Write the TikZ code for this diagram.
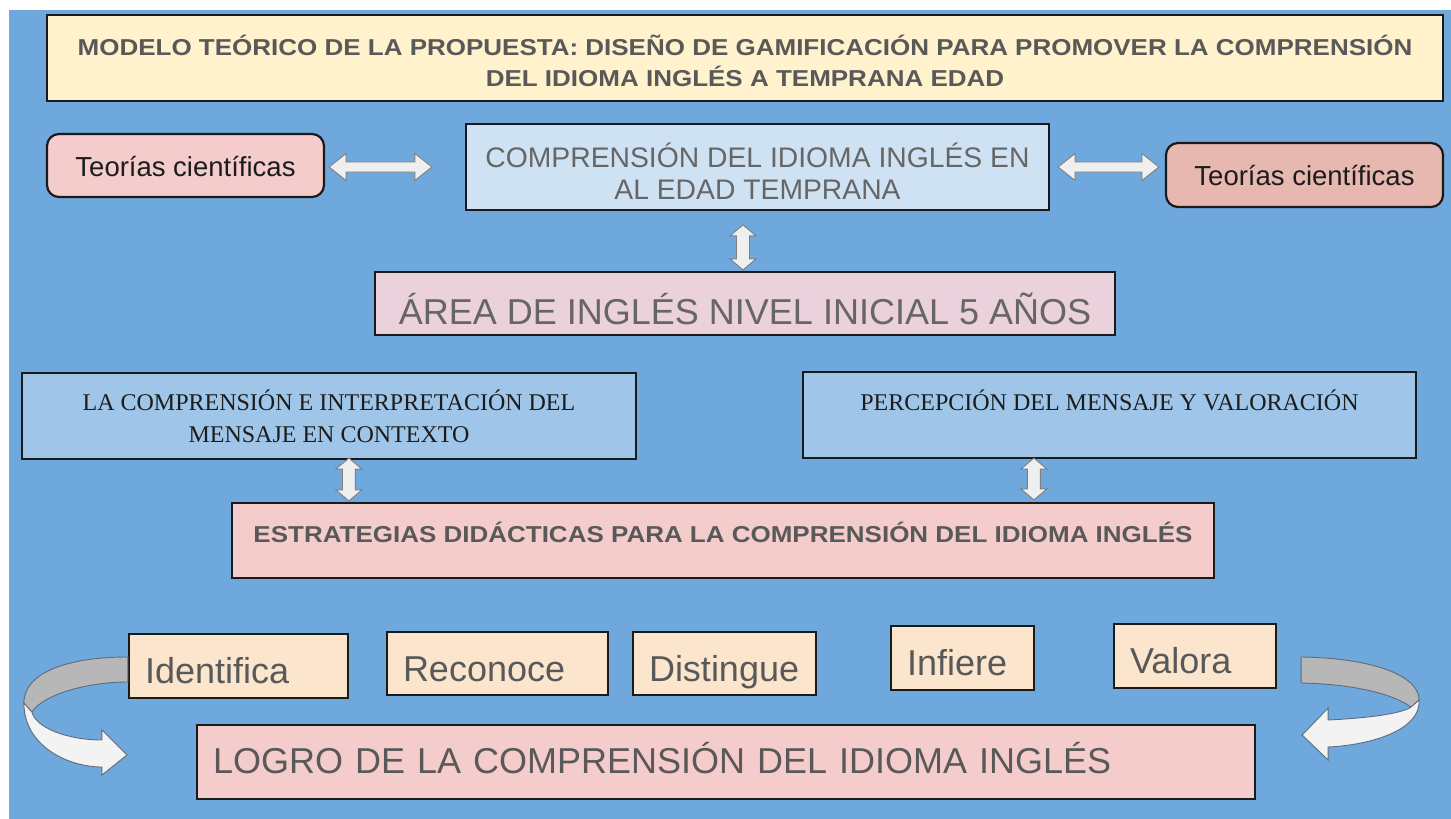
\documentclass[tikz,border=0pt]{standalone}
\usepackage{fontspec}
\setmainfont{Liberation Sans}
\newfontfamily\serifF{Liberation Serif}
\newfontfamily\wideF[FakeStretch=1.13]{Liberation Sans}
\usetikzlibrary{calc}
\definecolor{bgblue}{HTML}{6FA8DC}
\definecolor{titlefill}{HTML}{FFF2CC}
\definecolor{pinkfill}{HTML}{F4CCCC}
\definecolor{salmonfill}{HTML}{E6B8AF}
\definecolor{lightblue}{HTML}{CFE2F3}
\definecolor{midblue}{HTML}{9FC5E8}
\definecolor{lavfill}{HTML}{EAD1DC}
\definecolor{peach}{HTML}{FCE5CD}
\definecolor{edge}{HTML}{1A1A1A}
\definecolor{txtgray}{HTML}{595959}
\definecolor{txtlight}{HTML}{666666}
\definecolor{txtblack}{HTML}{1C1C1C}
\definecolor{arrfill}{HTML}{EFEFEF}
\definecolor{arrline}{HTML}{7F7F7F}
\definecolor{ribbongray}{HTML}{B7B7B7}
\definecolor{ribbonwhite}{HTML}{F3F3F3}
\definecolor{ribbonline}{HTML}{5F6B7A}
\newcommand\topstrut[1]{\rule{0pt}{#1pt}}
\newcommand\botstrut[1]{\rule[-#1pt]{0pt}{#1pt}}
\newcommand\harrow[2]{\draw[barrow] (#1) -- ([shift={(17,-13.5)}]#1) -- ([shift={(17,-5)}]#1) -- ([shift={(-17,-5)}]#2) -- ([shift={(-17,-13.5)}]#2) -- (#2) -- ([shift={(-17,13.5)}]#2) -- ([shift={(-17,5)}]#2) -- ([shift={(17,5)}]#1) -- ([shift={(17,13.5)}]#1) -- cycle;}
\newcommand\varrow[2]{\draw[barrow] (#1) -- ([shift={(13,11)}]#1) -- ([shift={(6.5,11)}]#1) -- ([shift={(6.5,-11)}]#2) -- ([shift={(13,-11)}]#2) -- (#2) -- ([shift={(-13,-11)}]#2) -- ([shift={(-6.5,-11)}]#2) -- ([shift={(-6.5,11)}]#1) -- ([shift={(-13,11)}]#1) -- cycle;}
\begin{document}
\begin{tikzpicture}[x=1pt,y=-1pt,
  box/.style={draw=edge, line width=2.2pt, inner sep=0pt},
  barrow/.style={fill=arrfill, draw=arrline, line width=0.9pt, line join=miter},
  rgray/.style={fill=ribbongray, draw=ribbonline, line width=0.9pt},
  rwhite/.style={fill=ribbonwhite, draw=ribbonline, line width=0.9pt, line join=miter},
  verb/.style={box, fill=peach, text=txtgray, align=left, inner xsep=16pt, font=\fontsize{36}{40}\selectfont}
]
\useasboundingbox (0,0) rectangle (1451,819);
\fill[white] (0,0) rectangle (1451,819);
\fill[bgblue] (9,10) rectangle (1451,819);

% title
\node[box, fill=titlefill, minimum width=1396pt, minimum height=86pt, align=center,
  font=\wideF\bfseries\fontsize{23}{31}\selectfont, text=txtgray] (title) at (745,58)
  {\topstrut{27.4}MODELO TEÓRICO DE LA PROPUESTA: DISEÑO DE GAMIFICACIÓN PARA PROMOVER LA COMPRENSIÓN\\DEL IDIOMA INGLÉS A TEMPRANA EDAD\botstrut{2}};

% second row
\node[box, rounded corners=12pt, fill=pinkfill, minimum width=277pt, minimum height=63pt,
  text height=24.4pt, text depth=2pt, font=\fontsize{27.5}{32}\selectfont, text=txtblack] (tl) at (185.5,165.5) {Teorías científicas};
\node[box, fill=lightblue, minimum width=583pt, minimum height=86pt, align=center,
  font=\fontsize{28.3}{32}\selectfont, text=txtlight] (cb) at (757.5,167)
  {\topstrut{34}COMPRENSIÓN DEL IDIOMA INGLÉS EN\\AL EDAD TEMPRANA\botstrut{2}};
\node[box, rounded corners=12pt, fill=salmonfill, minimum width=277pt, minimum height=64pt,
  text height=22pt, text depth=2pt, font=\fontsize{27.5}{32}\selectfont, text=txtblack] (tr) at (1304.5,175) {Teorías científicas};

% area
\node[box, fill=lavfill, minimum width=740pt, minimum height=63pt,
  text height=42pt, text depth=1pt, font=\fontsize{36}{40}\selectfont, text=txtlight] (area) at (745,303.5) {ÁREA DE INGLÉS NIVEL INICIAL 5 AÑOS};

% middle boxes
\node[box, fill=midblue, minimum width=614pt, minimum height=86pt, align=center,
  font=\serifF\fontsize{24}{32}\selectfont, text=txtblack] (lm) at (329,416)
  {\topstrut{24}LA COMPRENSIÓN E INTERPRETACIÓN DEL\\MENSAJE EN CONTEXTO\botstrut{4}};
\node[box, fill=midblue, minimum width=613pt, minimum height=86pt,
  text height=22pt, text depth=32pt, font=\serifF\fontsize{24}{32}\selectfont, text=txtblack] (rm) at (1109.5,415)
  {PERCEPCIÓN DEL MENSAJE Y VALORACIÓN};

% estrategias
\node[box, fill=pinkfill, minimum width=982pt, minimum height=75pt,
  text height=22pt, text depth=19pt, font=\wideF\bfseries\fontsize{23}{28}\selectfont, text=txtgray] (es) at (723,540.5)
  {ESTRATEGIAS DIDÁCTICAS PARA LA COMPRENSIÓN DEL IDIOMA INGLÉS};

% verbs
\node[verb, minimum width=219pt, minimum height=64pt, text width=187pt, text height=36pt, text depth=2pt] (id) at (238.5,666) {Identifica};
\node[verb, minimum width=221pt, minimum height=63pt, text width=189pt, text height=37pt, text depth=2pt] (rc) at (497.5,663.5) {Reconoce};
\node[verb, minimum width=183pt, minimum height=63pt, text width=151pt, text height=37pt, text depth=2pt] (ds) at (724.5,663.5) {Distingue};
\node[verb, minimum width=143pt, minimum height=64pt, text width=111pt, text height=36pt, text depth=2pt] (inf) at (962.5,658) {Infiere};
\node[verb, minimum width=162pt, minimum height=64pt, text width=130pt, text height=36pt, text depth=2pt] (val) at (1195,656) {Valora};

% logro
\node[box, fill=pinkfill, minimum width=1058pt, minimum height=74pt, text width=1026pt, align=left, inner xsep=16pt,
  text height=36pt, text depth=14pt, font=\fontsize{36}{40}\selectfont, text=txtgray] (logro) at (726,762)
  {LOGRO DE LA COMPRENSIÓN DEL IDIOMA INGLÉS};

% straight double block arrows
\coordinate (h1s) at ($(tl.east |- cb.west)+(4,0)$);
\coordinate (h1e) at ($(cb.west)+(-33,0)$);
\coordinate (h2s) at ($(cb.east)+(8,0)$);
\coordinate (h2e) at ($(tr.west |- cb.east)+(-6,0)$);
\harrow{h1s}{h1e}
\harrow{h2s}{h2e}
\coordinate (v1t) at ($(area.north)+(-2,-46)$);
\coordinate (v1b) at ($(area.north)+(-2,-1)$);
\varrow{v1t}{v1b}
\coordinate (v2t) at ($(lm.south west)+(328,-2)$);
\coordinate (v2b) at ($(v2t |- es.north)+(0,-1)$);
\varrow{v2t}{v2b}
\coordinate (v3t) at ($(rm.south west)+(232,-1)$);
\coordinate (v3b) at ($(v3t |- es.north)+(0,-2)$);
\varrow{v3t}{v3b}

% curved ribbon arrows
\begin{scope}[shift={(id.west)}]
  \draw[rgray] (0,-9) .. controls (-59,-9) and (-104,6) .. (-104,37) -- (-96,46) .. controls (-84,28) and (-40,16) .. (0,16) -- cycle;
  \draw[rwhite] (-104,37) .. controls (-104,80) and (-60,101) .. (-26,101) -- (-26,109) -- (-1,89) -- (-26,64) -- (-26,74) .. controls (-60,74) and (-92,62) .. (-96,46) -- cycle;
\end{scope}
\begin{scope}[shift={(val.east)}]
  \draw[rgray] (24,1) .. controls (94,2) and (142,19) .. (142,44) -- (134,51) .. controls (114,37) and (74,28) .. (24,27) -- cycle;
  \draw[rwhite] (142,44) .. controls (144,74) and (94,89) .. (51,91) -- (51,104) -- (25,79) -- (51,52) -- (51,64) .. controls (94,62) and (126,57) .. (134,51) -- cycle;
\end{scope}
\end{tikzpicture}
\end{document}
